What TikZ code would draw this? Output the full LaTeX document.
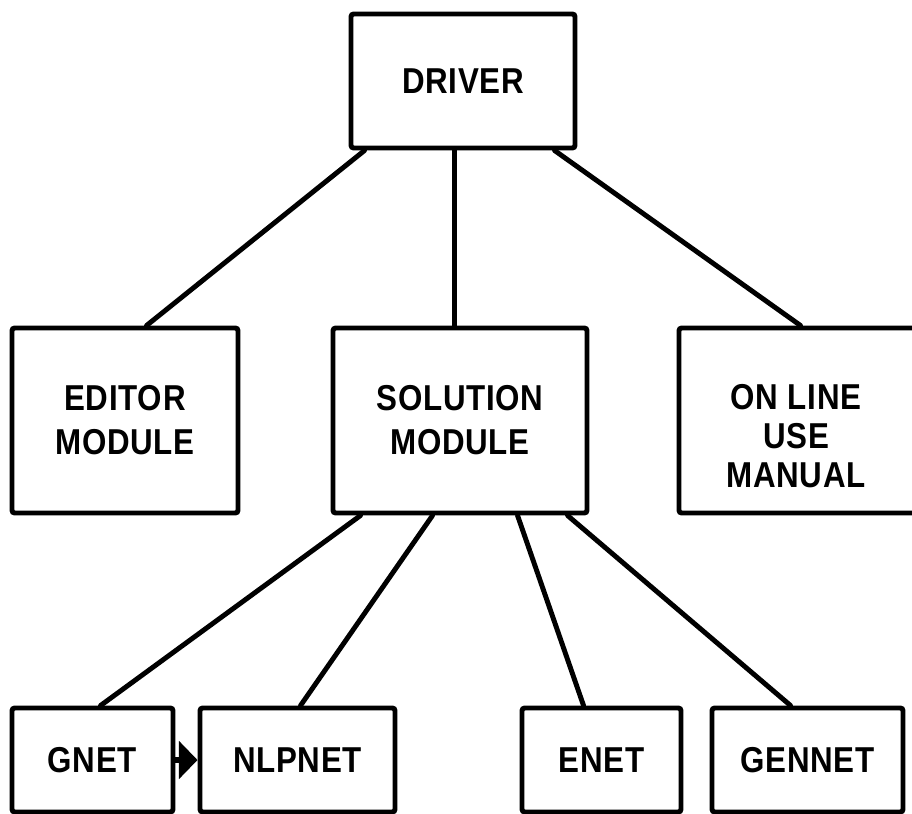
\documentclass[tikz,border=0pt]{standalone}
\usepackage{fontspec}
\setmainfont{Liberation Sans}[FakeStretch=0.87,LetterSpace=2]
\usetikzlibrary{calc,arrows.meta}
\begin{document}
\begin{tikzpicture}[x=0.75pt,y=-0.75pt,
  box/.style={draw,line width=3.7pt,rounded corners=2pt,inner sep=0pt,align=center,
    font=\fontsize{27}{33}\selectfont\bfseries},
  conn/.style={line width=3.7pt,line cap=round}]
\useasboundingbox (0,0) rectangle (912,813);
\clip (0,0) rectangle (912,813);
\fill[white] (0,0) rectangle (912,813);
% boxes
\node[box,minimum width=168pt,minimum height=100.5pt] (driver) at (463,81) {DRIVER};
\node[box,minimum width=169.5pt,minimum height=138.75pt] (editor) at (125,420.5) {EDITOR\\MODULE};
\node[box,minimum width=190.5pt,minimum height=138.75pt] (solution) at (460,420.5) {SOLUTION\\MODULE};
\node[box,minimum width=177.75pt,minimum height=138.75pt] (online) at (797.5,420.5) {};
\node[font=\fontsize{27}{33}\selectfont\bfseries,align=center,inner sep=0pt] (onlinetext) at (796,436) {ON LINE\\[-4pt]USE\\[-4pt]MANUAL};
\node[box,minimum width=120.75pt,minimum height=78pt] (gnet) at (92.5,760) {GNET};
\node[box,minimum width=146.25pt,minimum height=78pt] (nlpnet) at (297.5,760) {NLPNET};
\node[box,minimum width=119.25pt,minimum height=78pt] (enet) at (601.5,760) {ENET};
\node[box,minimum width=143.25pt,minimum height=78pt] (gennet) at (807.5,760) {GENNET};
% connectors from driver
\draw[conn] ($(driver.south west)+(16,0)$) -- ($(editor.north west)+(137,0)$);
\draw[conn] ($(driver.south west)+(106,0)$) -- ($(solution.north west)+(124,0)$);
\draw[conn] ($(driver.south west)+(206,0)$) -- ($(online.north west)+(124,0)$);
% connectors from solution
\draw[conn] ($(solution.south west)+(30,0)$) -- ($(gnet.north west)+(91,0)$);
\draw[conn] ($(solution.south west)+(102,0)$) -- ($(nlpnet.north west)+(103,0)$);
\draw[conn] ($(solution.south west)+(187,0)$) -- ($(enet.north west)+(64,0)$);
\draw[conn] ($(solution.south west)+(237,0)$) -- ($(gennet.north west)+(81,0)$);
% arrow
\draw[line width=5pt,-{Triangle[length=14pt,width=28pt]}] (gnet.east) -- (nlpnet.west);
\end{tikzpicture}
\end{document}
